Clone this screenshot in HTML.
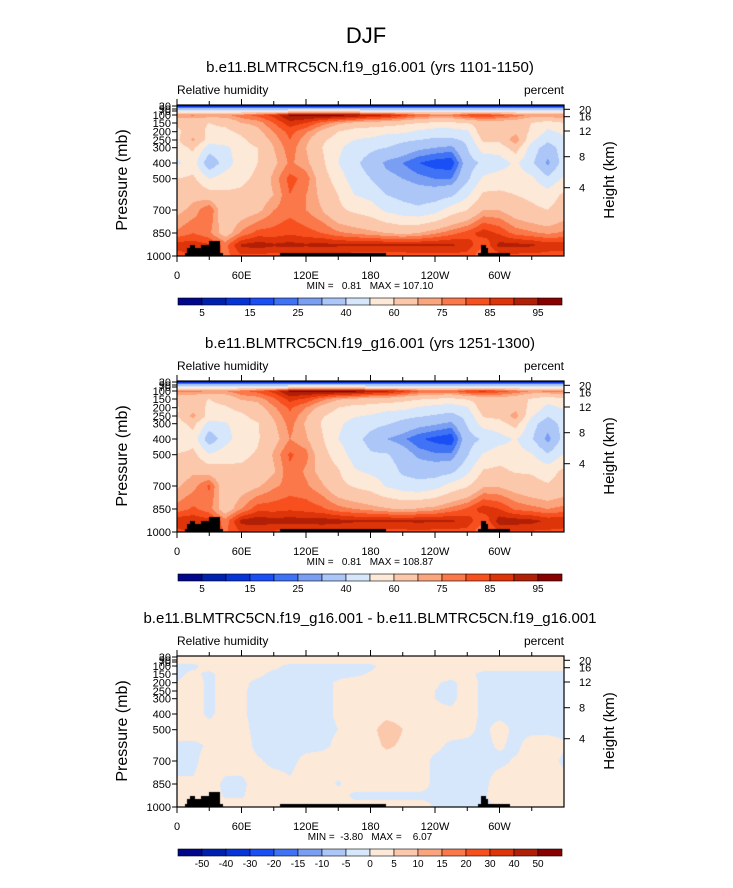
<!DOCTYPE html>
<html><head><meta charset="utf-8">
<style>
html,body{margin:0;padding:0;background:#fff;}
#root{position:relative;width:733px;height:888px;overflow:hidden;background:#fff;font-family:"Liberation Sans",sans-serif;}
canvas{position:absolute;}
svg{position:absolute;left:0;top:0;}
text{white-space:pre;}
</style></head>
<body>
<div id="root">
<canvas id="c0" width="387" height="151" style="left:177px;top:105px"></canvas>
<canvas id="c1" width="387" height="151" style="left:177px;top:381px"></canvas>
<canvas id="c2" width="387" height="151" style="left:177px;top:656px"></canvas>
<svg id="ov" width="733" height="888"></svg>
</div>
<script>
// ---- data ----
const lons = [0,15,30,45,60,75,90,105,120,135,150,165,180,195,210,225,240,255,270,285,300,315,330,345,360];
const plevs = [10,50,100,150,200,250,300,400,500,600,700,850,925,1000];
// relative humidity, one column per longitude (values per pressure level)
const rhCols1 = [
[2,35,75,62,58,58,55,48,60,65,68,76,88,82],
[2,35,76,62,65,72,62,55,62,68,72,80,88,85],
[2,35,74,60,58,55,45,32,50,65,80,76,86,85],
[2,35,74,62,58,55,48,45,55,62,62,66,78,78],
[2,35,78,70,62,58,55,55,58,62,65,76,91,84],
[2,35,82,72,68,65,60,60,62,65,68,82,93,83],
[2,35,87,80,75,72,70,68,72,70,75,82,91,83],
[2,35,96,88,82,80,78,76,82,80,78,84,92,82],
[2,35,96,85,76,72,70,72,78,75,75,82,91,83],
[2,35,97,78,68,62,60,62,65,68,70,80,92,83],
[2,35,97,72,60,55,52,50,55,60,62,76,91,83],
[2,35,96,68,55,50,45,42,45,50,58,74,91,82],
[2,35,93,65,55,48,42,36,40,47,55,72,91,82],
[2,35,91,65,52,45,40,28,33,40,48,70,91,82],
[2,35,86,62,52,42,36,25,30,37,44,68,91,82],
[2,35,80,60,48,40,32,20,27,35,42,70,91,83],
[2,35,78,58,45,38,30,17,25,35,46,74,91,83],
[2,35,78,58,45,38,28,16,25,38,55,78,91,83],
[2,35,84,60,48,42,40,35,38,48,60,82,88,83],
[2,35,86,65,68,62,55,42,52,62,70,88,80,76],
[2,35,82,65,62,62,55,45,55,62,70,84,92,83],
[2,35,78,65,68,75,65,52,55,60,65,78,92,83],
[2,35,74,60,58,52,45,42,52,58,62,76,91,83],
[2,35,76,55,48,42,35,28,42,55,60,74,88,83],
[2,35,76,60,52,48,45,45,52,62,65,76,88,82]
];
const rhCols2 = [
[2,35,76,63,59,59,56,49,61,66,69,77,89,83],
[2,35,77,62,66,73,63,56,63,69,73,81,89,86],
[2,35,75,60,58,56,46,33,51,66,81,77,87,86],
[2,35,75,63,59,56,49,46,56,63,63,65,77,79],
[2,35,79,71,63,58,55,55,58,62,66,75,92,85],
[2,35,82,72,67,64,59,59,61,64,69,83,94,84],
[2,35,87,79,74,71,69,67,71,69,74,83,92,84],
[2,35,96,87,81,79,77,75,81,79,77,84,93,83],
[2,35,96,84,75,71,69,71,77,74,76,83,92,84],
[2,35,98,77,67,61,59,61,64,67,71,81,93,84],
[2,35,98,71,60,55,52,50,55,61,63,77,92,84],
[2,35,97,69,56,51,46,43,46,51,59,75,91,83],
[2,35,94,66,56,49,43,37,41,48,56,73,91,83],
[2,35,92,66,53,46,41,30,41,46,49,71,91,83],
[2,35,87,63,53,43,37,26,35,38,45,69,91,83],
[2,35,81,61,49,41,33,21,28,36,43,71,91,84],
[2,35,79,59,46,39,31,18,26,35,46,73,91,83],
[2,35,79,58,44,37,28,16,26,37,54,77,91,83],
[2,35,85,61,49,43,41,36,39,47,59,81,88,83],
[2,35,87,64,67,61,54,41,51,61,69,88,80,76],
[2,35,83,66,63,63,56,46,56,62,69,85,93,84],
[2,35,79,64,67,74,64,51,54,59,66,79,93,84],
[2,35,75,59,57,51,44,41,51,59,63,77,92,84],
[2,35,77,54,47,41,34,27,41,56,61,75,89,84],
[2,35,77,59,51,47,44,44,51,62,64,77,89,83]
];
// difference field, one row per pressure level (values per longitude)
const diffRows = [
[2,2,2,2,2,2,2,2,2,2,2,2,2,2,2,2,2,2,2,2,2,2,2,2,2],
[2,2,2,2,2,2,2,2,2,2,2,2,2,2,2,2,2,2,2,2,2,2,2,2,2],
[-1,-1,2,2,2,2,1,-1,-1,-1,-1,-1,-1,2,2,2,2,2,2,2,2,2,2,2,2],
[-1,1,-1,2,2,1,-1,-1,-1,-1,-1,-1,0.5,2,2,2,2,2,1,-1,-1,-1,-1,-1,-1],
[0,2,-1,2,1,-1,-1,-1,-1,-1,0.5,2,2,2,2,2,0.5,-1,2,-1,-1,-1,-1,-1,-1],
[2,2,-1,2,0.5,-1,-1,-1,-1,-1,0.5,2,2,2,2,2,0,-1,2,-1,-1,-1,-1,-1,-1],
[2,2,-1,2,0.5,-1,-1,-1,-1,-1,0.5,2,2,2,2,2,0,-1,2,-1,-1,-1,-1,-1,-1],
[2,2,-1,2,0.5,-1,-1,-1,-1,-1,0.5,2,2,3,3,2,1,1,2,-1,-1,-1,-1,-1,-1],
[2,2,2,2,1,-1,-1,-1,-1,-1,0,2,3,8,5,2,2,2,1,-1,1.5,-1,-1,-1,-1],
[-1,-1,0.5,2,2,-1,-1,-1,-1,-1,1,2,2.5,6,4,2,1,-1,-1,-1,0.5,-1,2,2,0.5],
[-1,-1,2,2,2,0.5,-1,-1,1,2,2,2,2,2,2,2,-1,-1,-1,-1,-1,0.5,2,2,-1],
[0.5,0.5,2,-1,-1,2,2,0.5,2,2,-0.5,2,2,2,2,2,-1,-1,-1,-1,2,2,2,2,2],
[2,2,2,-0.5,-0.5,2,2,2,2,2,2,-1,-1,-1,-1,-1,-0.5,-0.5,-0.5,-0.5,2,2,2,2,2],
[2,2,2,2,2,2,2,2,2,2,2,2,2,2,2,2,-0.5,-0.5,-0.5,-0.5,-0.5,2,2,2,2]
];
const rhLevels = [5,10,15,20,25,30,40,50,60,70,75,80,85,90,95];
const rhLabels = ["5","15","25","40","60","75","85","95"];
const diffLevels = [-50,-40,-30,-20,-15,-10,-5,0,5,10,15,20,30,40,50];
const diffLabels = ["-50","-40","-30","-20","-15","-10","-5","0","5","10","15","20","30","40","50"];
const topo = [[7.5,9.6,977],[9.6,12.1,947],[12.1,17,925],[17,22.1,947],[22.1,29.6,925],[29.6,40.1,903],[40.1,42.6,977],[96,194,977],[280,282.5,977],[282.5,287.2,925],[287.2,289.7,947],[289.7,310,977]];
const xTicks = [0,60,120,180,240,300];
const xTickLabels = ["0","60E","120E","180","120W","60W"];
const pTicks = [30,50,70,100,150,200,250,300,400,500,700,850,1000];
const hTicks = [4,8,12,16,20];
const hTickY = [82.7,51.7,26,11.7,4.3];

const colors = ['#00078a','#0021b0','#0634d8','#1a4ff5','#3f72f5','#7a9ef2','#abc6f7','#d6e7fc','#fde9d8','#fcc8ac','#fba57f','#fa7849','#f84f1f','#de3409','#b21f07','#890000'];

// ---- geometry ----
const PX = 177, PW = 387, PH = 151;
const panelTop = [105, 381, 656];
const pTable = [[5,0],[10,0.5],[30,1],[50,4],[70,6],[100,10],[150,18],[200,26.7],[250,35],[300,42.7],[400,58],[500,73.7],[600,90],[700,105],[850,128],[925,140],[1000,151]];
function yOfP(p){
  for(let i=1;i<pTable.length;i++){
    if(p<=pTable[i][0]){const a=pTable[i-1],b=pTable[i];return a[1]+(p-a[0])/(b[0]-a[0])*(b[1]-a[1]);}
  }
  return PH;
}
function xOfLon(l){return l/360*PW;}
const rowPix = plevs.map(yOfP);

function binOf(v,levels){let k=0;while(k<levels.length&&v>=levels[k])k++;return k;}
function hexRgb(h){return [parseInt(h.substr(1,2),16),parseInt(h.substr(3,2),16),parseInt(h.substr(5,2),16)];}
const rgb = colors.map(hexRgb);

function drawField(canvasId,get,levels){
  const cv=document.getElementById(canvasId),ctx=cv.getContext('2d');
  const img=ctx.createImageData(PW,PH);
  const nc=lons.length;
  for(let py=0;py<PH;py++){
    const yy=py+0.5;let r=0;
    while(r<rowPix.length-2&&yy>rowPix[r+1])r++;
    let fr=(yy-rowPix[r])/(rowPix[r+1]-rowPix[r]);fr=Math.max(0,Math.min(1,fr));
    for(let px=0;px<PW;px++){
      const lon=(px+0.5)/PW*360;let c=0;
      while(c<nc-2&&lon>lons[c+1])c++;
      const fc=(lon-lons[c])/(lons[c+1]-lons[c]);
      const v=(get(r,c)*(1-fc)+get(r,c+1)*fc)*(1-fr)+(get(r+1,c)*(1-fc)+get(r+1,c+1)*fc)*fr;
      const col=rgb[binOf(v,levels)];const o=(py*PW+px)*4;
      img.data[o]=col[0];img.data[o+1]=col[1];img.data[o+2]=col[2];img.data[o+3]=255;
    }
  }
  ctx.putImageData(img,0,0);
  ctx.fillStyle='#000';
  topo.forEach(t=>{
    const x0=xOfLon(t[0]),x1=xOfLon(t[1]),y0=yOfP(t[2]);
    ctx.fillRect(Math.round(x0),Math.round(y0),Math.round(x1)-Math.round(x0),PH-Math.round(y0));
  });
}
drawField('c0',(r,c)=>rhCols1[c][r],rhLevels);
drawField('c1',(r,c)=>rhCols2[c][r],rhLevels);
drawField('c2',(r,c)=>diffRows[r][c],diffLevels);

// ---- overlay ----
const NS='http://www.w3.org/2000/svg';
const svg=document.getElementById('ov');
function mk(tag,attrs,parent){const e=document.createElementNS(NS,tag);for(const k in attrs)e.setAttribute(k,attrs[k]);(parent||svg).appendChild(e);return e;}
function txt(s,x,y,size,anchor,parent){const t=mk('text',{x:x,y:y,'font-size':size,'text-anchor':anchor||'middle','font-family':'Liberation Sans, sans-serif',fill:'#000'},parent);t.textContent=s;return t;}

const title=txt('DJF',366,43,22,'middle');



const subtitles=['b.e11.BLMTRC5CN.f19_g16.001 (yrs 1101-1150)','b.e11.BLMTRC5CN.f19_g16.001 (yrs 1251-1300)','b.e11.BLMTRC5CN.f19_g16.001 - b.e11.BLMTRC5CN.f19_g16.001'];
const minmax=['MIN =   0.81   MAX = 107.10','MIN =   0.81   MAX = 108.87','MIN =  -3.80   MAX =    6.07'];
const cbOff=[298,574,849];

for(let p=0;p<3;p++){
  const T=panelTop[p];
  const g=mk('g',{});
  
  
  const st=txt(subtitles[p],370,T-33,15,'middle',g);
  
  
  const lt=txt('Relative humidity',177,T-11,12,'start',g);
  
  
  const rt=txt('percent',564,T-11,12,'end',g);
  
  
  const frame=mk('rect',{x:PX,y:T,width:PW,height:PH,fill:'none',stroke:'#000','stroke-width':1.2},g);
  
  
  for(let l=0;l<360;l+=30){
    const x=PX+xOfLon(l),major=(l%60===0),len=major?6:4;
    mk('line',{x1:x,x2:x,y1:T,y2:T-len,stroke:'#000','stroke-width':1},g);
    mk('line',{x1:x,x2:x,y1:T+PH,y2:T+PH+len,stroke:'#000','stroke-width':1},g);
  }
  xTicks.forEach((l,i)=>{
    const t=txt(xTickLabels[i],PX+xOfLon(l),T+PH+23,11,'middle',g);
    
    
  });
  pTicks.forEach((pv,i)=>{
    const y=T+yOfP(pv);
    mk('line',{x1:PX-5,x2:PX,y1:y,y2:y,stroke:'#000','stroke-width':1},g);
    const t=txt(String(pv),171,y+4,11,'end',g);
    
    
  });
  hTicks.forEach((h,i)=>{
    const y=T+hTickY[i];
    mk('line',{x1:PX+PW,x2:PX+PW+6,y1:y,y2:y,stroke:'#000','stroke-width':1},g);
    const t=txt(String(h),579,y+4,11,'start',g);
    
    
  });
  const yl=txt('Pressure (mb)',0,0,16,'middle',g);
  yl.setAttribute('transform','translate(127,'+(T+75)+') rotate(-90)');
  
  
  const hl=txt('Height (km)',0,0,15,'middle',g);
  hl.setAttribute('transform','translate(614,'+(T+75)+') rotate(-90)');
  
  
  const mm=txt(minmax[p],370,T+PH+33,10,'middle',g);
  
  
  const cy=cbOff[p],cx0=178,cw=384,bw=cw/16;
  const cb=mk('g',{},g);
  
  
  for(let i=0;i<16;i++){
    const r=mk('rect',{x:cx0+i*bw,y:cy,width:bw,height:7,fill:colors[i],stroke:'#000','stroke-width':0.6},cb);
    
    
  }
  const labs=p<2?rhLabels:diffLabels;
  labs.forEach((s,i)=>{
    const idx=p<2?(1+2*i):(1+i);
    const t=txt(s,cx0+idx*bw,cy+18,10,'middle',cb);
    
    
  });
}
</script>
</body></html>
